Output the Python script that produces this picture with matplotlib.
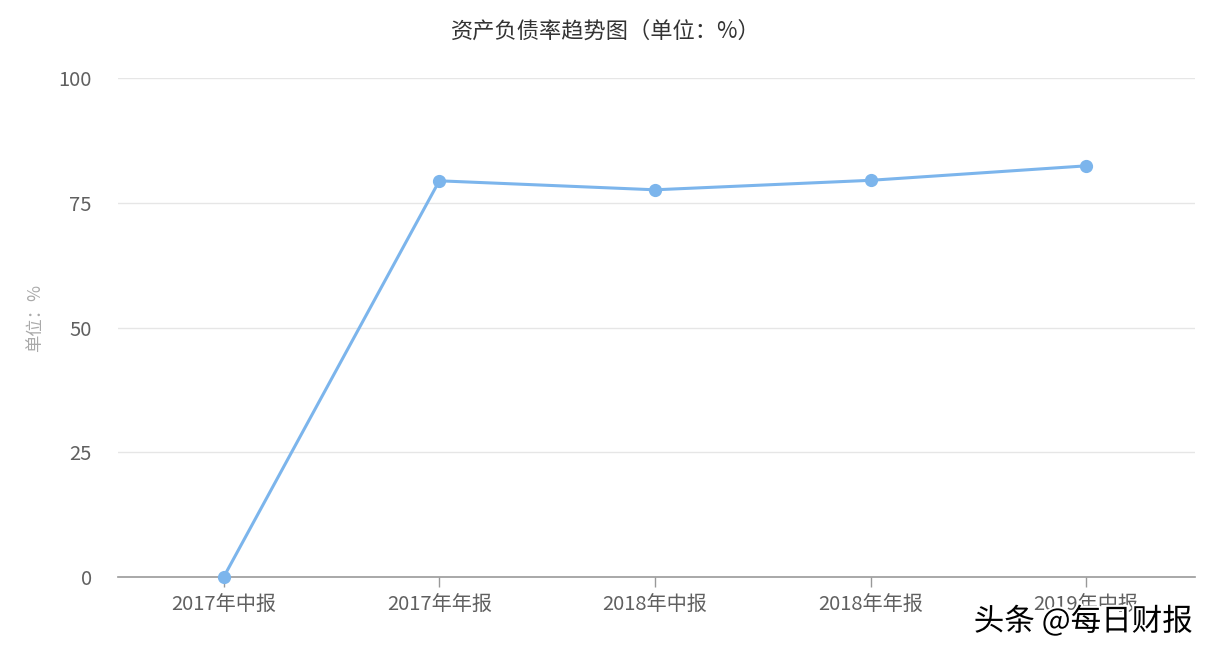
import matplotlib
matplotlib.use('Agg')
import matplotlib.pyplot as plt
import matplotlib.patheffects as pe

plt.rcParams['font.family'] = ['Noto Sans CJK SC', 'DejaVu Sans']

# Data
periods = ['2017年中报', '2017年年报', '2018年中报', '2018年年报', '2019年中报']
debt_ratio = [0.0, 79.4, 77.6, 79.5, 82.4]
y_ticks = [0, 25, 50, 75, 100]

fig = plt.figure(figsize=(12.12, 6.54), dpi=100)
ax = fig.add_axes([0.0974, 0.1177, 0.8886, 0.763])

x = list(range(len(periods)))
ax.plot(x, debt_ratio, '-o', color='#7cb5ec', linewidth=2.2, markersize=8.5,
        zorder=3, clip_on=False)

ax.set_xlim(-0.49, 4.505)
ax.set_ylim(0, 100)
ax.set_yticks(y_ticks)
ax.set_xticks(x)
ax.set_xticklabels(periods)

for v in y_ticks[1:]:
    ax.axhline(v, color='#e6e6e6', linewidth=1.0, zorder=1)

for side in ['top', 'right', 'left']:
    ax.spines[side].set_visible(False)
ax.spines['bottom'].set_color('#999999')
ax.spines['bottom'].set_linewidth(1.2)

ax.tick_params(axis='y', length=0, pad=19, labelsize=14.5, labelcolor='#606060')
ax.tick_params(axis='x', length=7, width=1, color='#999999', pad=6,
               labelsize=14.5, labelcolor='#606060')

ax.set_ylabel('单位：%', color='#aaaaaa', fontsize=12.5)
ax.yaxis.set_label_coords(-0.069, 0.52)

fig.text(0.4995, 0.953, '资产负债率趋势图（单位：%）', ha='center', va='center',
         fontsize=16, color='#333333')

fig.text(0.984, 0.05, '头条 @每日财报', ha='right', va='center', fontsize=22,
         color='black',
         path_effects=[pe.withStroke(linewidth=3, foreground='white')])

fig.savefig('out.png', dpi=100)
